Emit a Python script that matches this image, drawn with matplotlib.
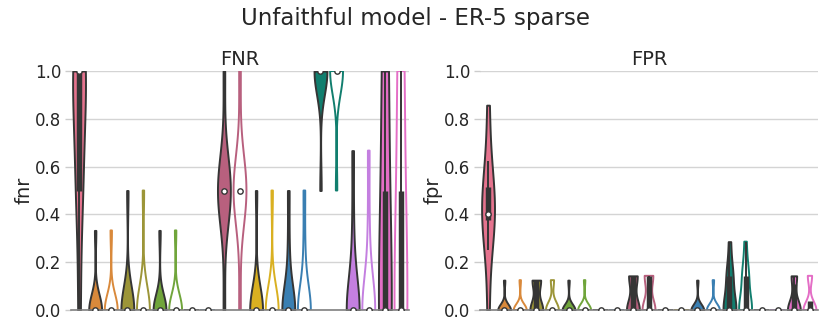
import numpy as np
import matplotlib
matplotlib.use("Agg")
import matplotlib.pyplot as plt

# Categories (x positions, labels hidden in the chart)
METHODS = ["ref",
           "m1", "m1-s", "m2", "m2-s", "m3", "m3-s", "m4", "m4-s", "m5", "m5-s",
           "m6", "m6-s", "m7", "m7-s", "m8", "m8-s", "m9", "m9-s", "m10", "m10-s"]

COLORS = ["#e5738e",
          "#d9893b", "#d9893b", "#9c9538", "#9c9538", "#70a53b", "#70a53b",
          "#5f8bb0", "#5f8bb0", "#b8607e", "#b8607e", "#d9b021", "#d9b021",
          "#3a7fb2", "#3a7fb2", "#117e6e", "#117e6e", "#c47fe0", "#c47fe0",
          "#e46ec6", "#e46ec6"]

FILLED = [True] + [True, False] * 10

# per-run results (one list per method)
FNR = [
    [0.0, 0.5, 0.5, 0.667, 1.0, 1.0, 1.0, 1.0, 1.0],
    [0.0, 0.0, 0.0, 0.0, 0.0, 0.0, 0.0, 0.0, 0.0, 0.333],
    [0.0, 0.0, 0.0, 0.0, 0.0, 0.0, 0.0, 0.0, 0.0, 0.333],
    [0.0, 0.0, 0.0, 0.0, 0.0, 0.0, 0.0, 0.0, 0.0, 0.5],
    [0.0, 0.0, 0.0, 0.0, 0.0, 0.0, 0.0, 0.0, 0.0, 0.5],
    [0.0, 0.0, 0.0, 0.0, 0.0, 0.0, 0.0, 0.0, 0.0, 0.333],
    [0.0, 0.0, 0.0, 0.0, 0.0, 0.0, 0.0, 0.0, 0.0, 0.333],
    [0.0, 0.0, 0.0, 0.0, 0.0, 0.0, 0.0, 0.0, 0.0, 0.0],
    [0.0, 0.0, 0.0, 0.0, 0.0, 0.0, 0.0, 0.0, 0.0, 0.0],
    [0.0, 0.5, 0.5, 0.5, 0.5, 0.5, 0.5, 0.5, 0.5, 1.0],
    [0.0, 0.5, 0.5, 0.5, 0.5, 0.5, 0.5, 0.5, 0.5, 1.0],
    [0.0, 0.0, 0.0, 0.0, 0.0, 0.0, 0.0, 0.0, 0.0, 0.5],
    [0.0, 0.0, 0.0, 0.0, 0.0, 0.0, 0.0, 0.0, 0.0, 0.5],
    [0.0, 0.0, 0.0, 0.0, 0.0, 0.0, 0.0, 0.0, 0.25, 0.5],
    [0.0, 0.0, 0.0, 0.0, 0.0, 0.0, 0.0, 0.0, 0.25, 0.5],
    [0.5, 1.0, 1.0, 1.0, 1.0, 1.0, 1.0, 1.0, 1.0, 1.0],
    [0.5, 1.0, 1.0, 1.0, 1.0, 1.0, 1.0, 1.0, 1.0, 1.0],
    [0.0, 0.0, 0.0, 0.0, 0.0, 0.0, 0.0, 0.0, 0.333, 0.667],
    [0.0, 0.0, 0.0, 0.0, 0.0, 0.0, 0.0, 0.0, 0.333, 0.667],
    [0.0, 0.0, 1.0],
    [0.0, 0.0, 1.0],
]

FPR = [
    [0.0, 0.25, 0.375, 0.375, 0.4, 0.4, 0.5, 0.52, 0.625, 0.857],
    [0.0, 0.0, 0.0, 0.0, 0.0, 0.0, 0.0, 0.0, 0.0, 0.125],
    [0.0, 0.0, 0.0, 0.0, 0.0, 0.0, 0.0, 0.0, 0.0, 0.125],
    [0.0, 0.0, 0.0, 0.0, 0.0, 0.0, 0.125, 0.125, 0.125, 0.125],
    [0.0, 0.0, 0.0, 0.0, 0.0, 0.0, 0.0, 0.0, 0.125, 0.125],
    [0.0, 0.0, 0.0, 0.0, 0.0, 0.0, 0.0, 0.0, 0.0, 0.125],
    [0.0, 0.0, 0.0, 0.0, 0.0, 0.0, 0.0, 0.0, 0.0, 0.125],
    [0.0, 0.0, 0.0, 0.0, 0.0, 0.0, 0.0, 0.0, 0.0, 0.0],
    [0.0, 0.0, 0.0, 0.0, 0.0, 0.0, 0.0, 0.0, 0.0, 0.0],
    [0.0, 0.0, 0.0, 0.0, 0.0, 0.0, 0.143, 0.143, 0.143, 0.143],
    [0.0, 0.0, 0.0, 0.0, 0.0, 0.0, 0.143, 0.143, 0.143, 0.143],
    [0.0, 0.0, 0.0, 0.0, 0.0, 0.0, 0.0, 0.0, 0.0, 0.0],
    [0.0, 0.0, 0.0, 0.0, 0.0, 0.0, 0.0, 0.0, 0.0, 0.0],
    [0.0, 0.0, 0.0, 0.0, 0.0, 0.0, 0.0, 0.0, 0.0, 0.125],
    [0.0, 0.0, 0.0, 0.0, 0.0, 0.0, 0.0, 0.0, 0.0, 0.125],
    [0.0, 0.0, 0.0, 0.0, 0.0, 0.0, 0.143, 0.143, 0.143, 0.286],
    [0.0, 0.0, 0.0, 0.0, 0.0, 0.0, 0.143, 0.143, 0.143, 0.286],
    [0.0, 0.0, 0.0, 0.0, 0.0, 0.0, 0.0, 0.0, 0.0, 0.0],
    [0.0, 0.0, 0.0, 0.0, 0.0, 0.0, 0.0, 0.0, 0.0, 0.0],
    [0.0, 0.0, 0.0, 0.0, 0.0, 0.0, 0.0, 0.143, 0.143, 0.143],
    [0.0, 0.0, 0.0, 0.0, 0.0, 0.0, 0.0, 0.0, 0.0, 0.0, 0.0, 0.0, 0.0, 0.0, 0.0,
     0.143, 0.143, 0.143, 0.143, 0.143],
]

YTICKS = [0.0, 0.2, 0.4, 0.6, 0.8, 1.0]

GRAY = "#353535"
TEXT = "#262626"
LW = 1.4


def drawViolins(ax, samples):
    for pos, (vals, colour, filled) in enumerate(zip(samples, COLORS, FILLED)):
        vals = np.asarray(vals, dtype=float)
        edge = GRAY if filled else colour
        if np.ptp(vals) == 0:
            ax.plot([pos - 0.4, pos + 0.4], [vals[0], vals[0]], color=edge, lw=LW)
        else:
            parts = ax.violinplot([vals], positions=[pos], widths=0.8,
                                  showextrema=False, points=100)
            body = parts["bodies"][0]
            body.set_alpha(1)
            body.set_facecolor(colour if filled else "none")
            body.set_edgecolor(edge)
            body.set_linewidth(LW)

        q25, q50, q75 = np.percentile(vals, [25, 50, 75])
        iqr = q75 - q25
        lo = vals[vals >= q25 - 1.5 * iqr].min()
        hi = vals[vals <= q75 + 1.5 * iqr].max()
        ax.plot([pos, pos], [lo, hi], color=GRAY, lw=LW, solid_capstyle="butt")
        ax.plot([pos, pos], [q25, q75], color=GRAY, lw=LW * 2.8, solid_capstyle="butt")
        ax.scatter([pos], [q50], s=15, color="white", edgecolor=GRAY,
                   linewidth=1.0, zorder=3)


def styleAxis(ax, title, ylab):
    ax.set_xlim(-0.5, len(METHODS) - 0.5)
    ax.set_ylim(0, 1)
    ax.set_xticks([])
    ax.set_yticks(YTICKS)
    ax.set_yticklabels([f"{t:.1f}" for t in YTICKS])
    ax.tick_params(axis="y", length=4, width=1, color="#cccccc", labelsize=12,
                   labelcolor=TEXT, pad=3)
    ax.grid(True, axis="y", color="#d4d4d4", lw=1.0)
    ax.set_axisbelow(True)
    for side in ("left", "top", "right"):
        ax.spines[side].set_visible(False)
    ax.spines["bottom"].set_color("#808080")
    ax.spines["bottom"].set_linewidth(1.2)
    ax.set_title(title, fontsize=14, color=TEXT, pad=4)
    ax.set_ylabel(ylab, fontsize=14, color=TEXT, labelpad=1)


fig = plt.figure(figsize=(8.3, 3.32), dpi=100)
axFnr = fig.add_axes([71 / 830, 1 - 310 / 332, 338 / 830, 239 / 332])
axFpr = fig.add_axes([480 / 830, 1 - 310 / 332, 338 / 830, 239 / 332])

drawViolins(axFnr, FNR)
drawViolins(axFpr, FPR)
styleAxis(axFnr, "FNR", "fnr")
styleAxis(axFpr, "FPR", "fpr")

fig.suptitle("Unfaithful model - ER-5 sparse", fontsize=16.5, color=TEXT, y=0.98)
fig.savefig("out.png", dpi=100)
